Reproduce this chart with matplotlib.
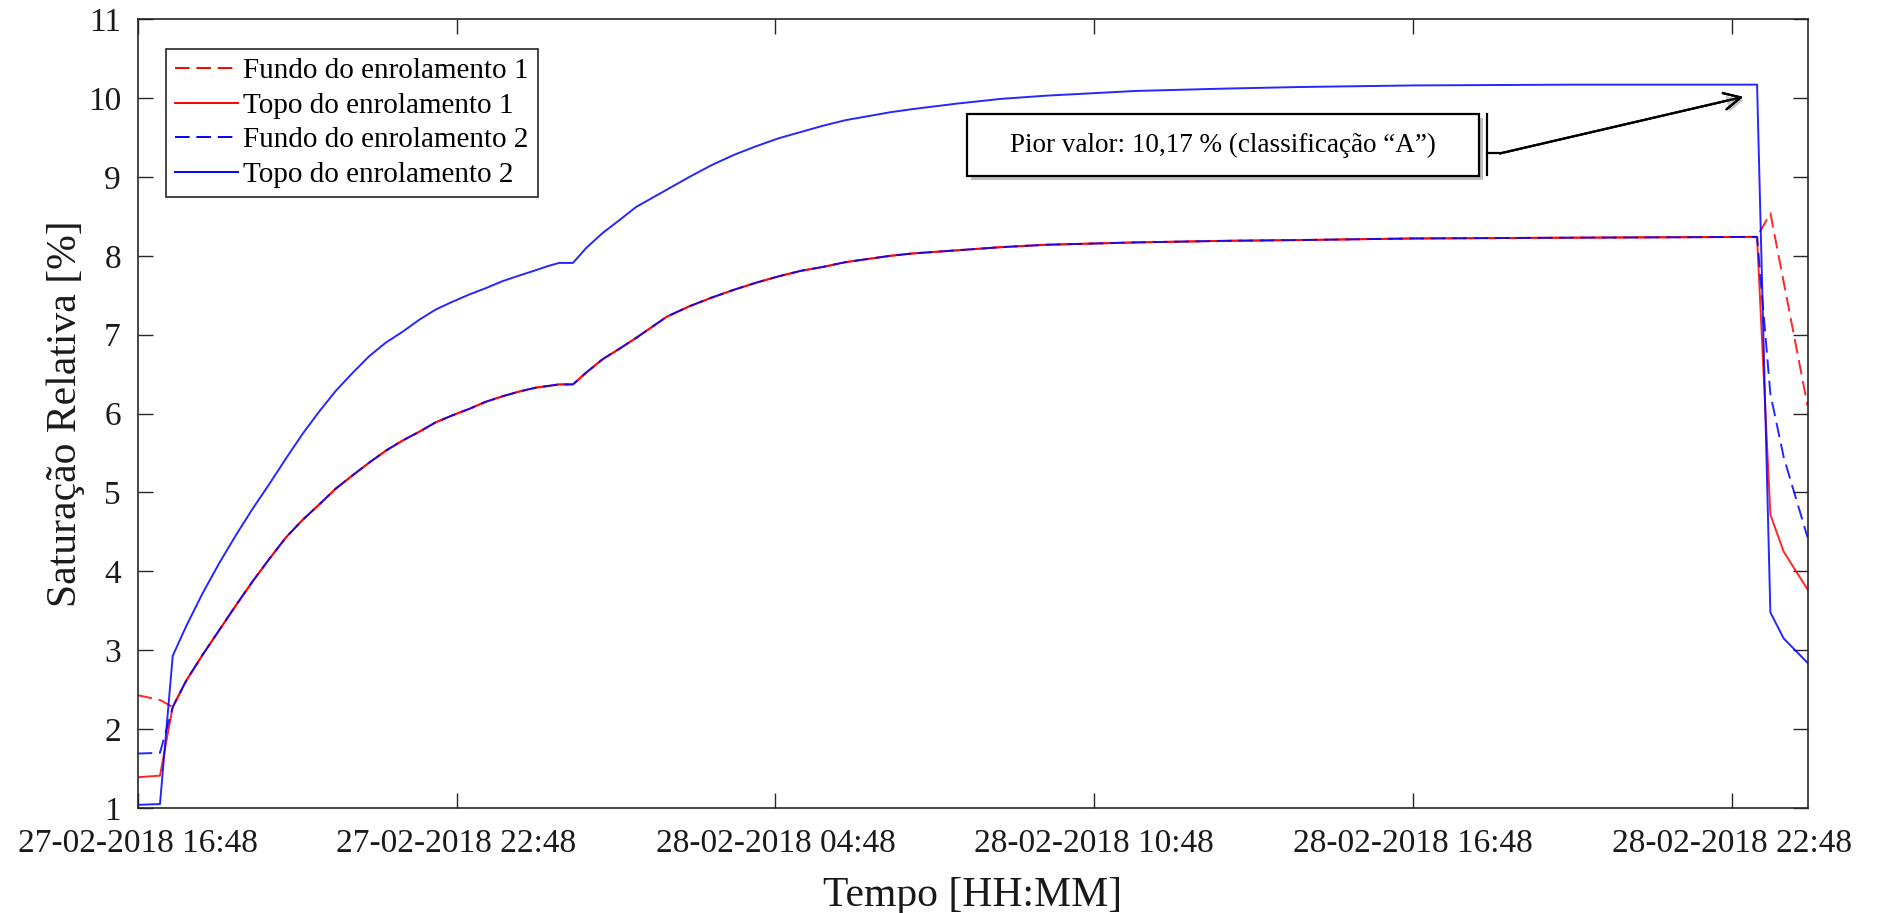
"""Saturação relativa dos enrolamentos (fundo/topo) ao longo do ensaio."""

import matplotlib

matplotlib.use("Agg")
import matplotlib.dates as mdates  # noqa: E402
import matplotlib.patheffects as pe  # noqa: E402
import matplotlib.pyplot as plt  # noqa: E402
import numpy as np  # noqa: E402
import pandas as pd  # noqa: E402
from matplotlib.patches import Rectangle  # noqa: E402

START = pd.Timestamp("2018-02-27 16:48")

# horas desde 27-02-2018 16:48
t_start = [0.0, 0.42]
fundo1_start = [2.43, 2.37]
topo1_start = [1.39, 1.41]
fundo2_start = [1.69, 1.70]
topo2_start = [1.04, 1.05]

t_mid = [0.66, 0.91, 1.22, 1.54, 1.85, 2.16, 2.48, 2.79, 3.10, 3.42, 3.73, 4.05,
         4.36, 4.67, 4.99, 5.30, 5.61, 5.93, 6.24, 6.55, 6.87, 7.18, 7.50, 7.72,
         7.93, 8.19, 8.44, 8.75, 9.06, 9.38, 9.96, 10.38, 10.80, 11.22, 11.64,
         12.06, 12.48, 12.90, 13.32, 13.74, 14.16, 14.58, 15.42, 16.25, 17.09,
         18.78, 20.46, 21.87, 24.0, 27.0, 30.47]
topo2_mid = [2.93, 3.30, 3.72, 4.11, 4.46, 4.79, 5.11, 5.43, 5.74, 6.03, 6.29, 6.52,
             6.73, 6.90, 7.04, 7.19, 7.32, 7.42, 7.51, 7.59, 7.68, 7.75, 7.82, 7.87,
             7.91, 7.91, 8.10, 8.29, 8.45, 8.62, 8.84, 9.00, 9.15, 9.28, 9.39,
             9.49, 9.57, 9.65, 9.72, 9.77, 9.82, 9.86, 9.93, 9.99, 10.03,
             10.09, 10.12, 10.14, 10.16, 10.17, 10.17]
# fundo 1, topo 1 e fundo 2 coincidem nesta fase
lower_mid = [2.28, 2.61, 2.94, 3.26, 3.57, 3.87, 4.16, 4.43, 4.65, 4.85, 5.05, 5.22,
             5.38, 5.53, 5.66, 5.77, 5.89, 5.98, 6.06, 6.15, 6.22, 6.28, 6.33, 6.35,
             6.37, 6.37, 6.52, 6.69, 6.82, 6.96, 7.23, 7.36, 7.47, 7.57, 7.66,
             7.74, 7.81, 7.86, 7.92, 7.96, 8.00, 8.03, 8.07, 8.11, 8.14,
             8.17, 8.19, 8.20, 8.22, 8.23, 8.24]

t_end = [30.72, 30.97, 31.42]
fundo1_end = [8.54, 7.67, 6.10]
topo1_end = [4.72, 4.25, 3.77]
fundo2_end = [6.25, 5.45, 4.43]
topo2_end = [3.48, 3.15, 2.84]

T_MAX = 31.42
tick_hours = [0, 6, 12, 18, 24, 30]

labels = ["Fundo do enrolamento 1", "Topo do enrolamento 1",
          "Fundo do enrolamento 2", "Topo do enrolamento 2"]


def to_time(hours):
    return START + pd.to_timedelta(np.asarray(hours, dtype=float), unit="h")


plt.rcParams["font.family"] = ["Liberation Serif", "DejaVu Serif"]
AX_COL = "#262626"

fig = plt.figure(figsize=(18.78, 9.13), dpi=100)
ax = fig.add_axes([0.0733, 0.115, 0.8892, 0.864])

t_all = t_start + t_mid + t_end
series = [
    (fundo1_start + lower_mid + fundo1_end, "#ff0000", "--"),
    (topo1_start + lower_mid + topo1_end, "#ff0000", "-"),
    (fundo2_start + lower_mid + fundo2_end, "#0000ff", "--"),
    (topo2_start + topo2_mid + topo2_end, "#0000ff", "-"),
]
x = to_time(t_all)
for (vals, col, ls), lab in zip(series, labels):
    line, = ax.plot(x, vals, color=col, ls=ls, lw=1.4, label=lab, alpha=0.85)
    if ls == "--":
        line.set_dashes((7.5, 3.5))

ax.set_xlim(to_time([0, T_MAX]))
ax.set_ylim(1, 11)
ax.set_yticks(range(1, 12))
ax.set_xticks(to_time(tick_hours))
ax.xaxis.set_major_formatter(mdates.DateFormatter("%d-%m-%Y %H:%M"))

ax.tick_params(direction="in", length=11, width=1, top=True, right=True,
               color=AX_COL, labelcolor="#1a1a1a")
ax.tick_params(axis="y", labelsize=24, pad=12)
ax.tick_params(axis="x", labelsize=24, pad=15)
for s in ax.spines.values():
    s.set_color(AX_COL)
    s.set_linewidth(1.2)

ax.set_xlabel("Tempo [HH:MM]", fontsize=30, color="#1a1a1a", labelpad=12)
ax.set_ylabel("Saturação Relativa [%]", fontsize=30, color="#1a1a1a", labelpad=2)

leg = ax.legend(loc="upper left", bbox_to_anchor=(0.017, 0.962), borderaxespad=0,
                fontsize=21, handlelength=2.15, handletextpad=0.2, labelspacing=0.28,
                borderpad=0.3, fancybox=False, framealpha=1, edgecolor=AX_COL)
leg.get_frame().set_linewidth(1.2)
for h in leg.get_lines():
    h.set_alpha(1)

# caixa de anotação (coordenadas relativas ao eixo)
box = Rectangle((0.4967, 0.801), 0.3066, 0.079, transform=ax.transAxes,
                facecolor="white", edgecolor="black", lw=1.6, zorder=5,
                path_effects=[pe.withSimplePatchShadow(offset=(3, -3), alpha=0.35)])
ax.add_patch(box)
ax.text(0.65, 0.8405, "Pior valor: 10,17 % (classificação “A”)", transform=ax.transAxes,
        ha="center", va="center", fontsize=19.5, zorder=6)

ax.plot([0.8082, 0.8082], [0.802, 0.880], transform=ax.transAxes, color="black",
        lw=1.6, zorder=6)
ax.plot([0.8082, 0.8158], [0.8298, 0.8298], transform=ax.transAxes, color="black",
        lw=1.6, zorder=6)
arr = ax.annotate("", xy=(0.9615, 0.9015), xycoords="axes fraction",
                  xytext=(0.8158, 0.8298), textcoords="axes fraction",
                  arrowprops=dict(arrowstyle="->,head_length=0.6,head_width=0.3",
                                  mutation_scale=20, lw=1.6, color="black",
                                  shrinkA=0, shrinkB=0), zorder=6)
arr.arrow_patch.set_path_effects([pe.withSimplePatchShadow(offset=(2, -2), alpha=0.3),
                                  pe.Normal()])

fig.savefig("out.png", dpi=100)
